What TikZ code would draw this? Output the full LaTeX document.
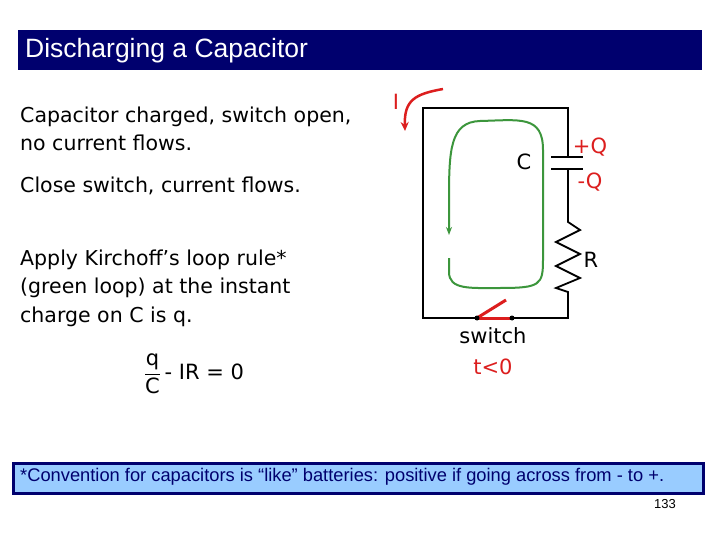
\documentclass[tikz,border=0pt]{standalone}
\usepackage{fontspec}
\setmainfont{DejaVu Sans}
\newfontfamily\arl{Liberation Sans}
\usetikzlibrary{arrows.meta}
\definecolor{navy}{RGB}{0,0,110}
\definecolor{lblue}{RGB}{153,204,255}
\definecolor{lgreen}{RGB}{60,150,60}
\definecolor{rd}{RGB}{220,30,30}
\tikzset{body/.style={anchor=west,align=left,font=\fontsize{20.5}{28.5}\selectfont,inner sep=0},
 wire/.style={line width=1.8pt},
 lbl/.style={font=\fontsize{21}{24}\selectfont,inner sep=0}}
\begin{document}
\begin{tikzpicture}[x=1pt,y=-1pt]
\useasboundingbox (0,0) rectangle (720,540);
\fill[white] (0,0) rectangle (720,540);
\node[fill=navy,minimum width=684,minimum height=40,anchor=north west,inner sep=0] (title) at (18,30) {};
\node[anchor=west,text=white,font=\arl\fontsize{26.5}{28}\selectfont,inner sep=0] (tt) at (25,51) {Discharging a Capacitor};
\node[body] (t1) at (20,129) {Capacitor charged, switch open,\\no current flows.};
\node[body] (t2) at (20,186) {Close switch, current flows.};
\node[body] (t3) at (20,288) {Apply Kirchoff’s loop rule*\\(green loop) at the instant\\charge on C is q.};
\node[font=\fontsize{21}{24}\selectfont,inner sep=0] (eq) at (194,374) {$\displaystyle\frac{\mathrm{q}}{\mathrm{C}}$\,- IR = 0};
% circuit
\coordinate (tl) at (423,108); \coordinate (tr) at (568,108);
\coordinate (bl) at (423,318); \coordinate (br) at (568,318);
\coordinate (ct) at (568,157); \coordinate (cb) at (568,169);
\coordinate (rt) at (568,222); \coordinate (rb) at (568,292);
\coordinate (s1) at (477,318); \coordinate (s2) at (512,318);
\draw[wire] (s1) -- (bl) -- (tl) -- (tr) -- (ct);
\draw[wire] (551,157) -- (583,157);
\draw[wire] (551,169) -- (583,169);
\draw[wire] (cb) -- (rt) -- (580,230) -- (556,242) -- (580,254) -- (556,266) -- (580,278) -- (556,288) -- (rb) -- (br) -- (s2);
\draw[rd,line width=3pt] (s1) -- (s2);
\draw[rd,line width=3pt] (s1) -- (506,300);
\fill (s1) circle (2.5); \fill (s2) circle (2.5);
\node[lbl] (C) at (524,162) {C};
\node[lbl,text=rd] (pq) at (590,147) {+Q};
\node[lbl,text=rd] (mq) at (590,182) {-Q};
\node[lbl] (R) at (591,260) {R};
\node[lbl] (sw) at (493,336) {switch};
\node[lbl,text=rd] (tz) at (493,367) {t<0};
% green loop
\draw[lgreen,line width=2pt,-{Stealth[length=8pt]}] (449,258) -- (449,272) .. controls (449,290) and (470,288) .. (500,288)
 .. controls (540,288) and (543,285) .. (543,260) -- (543,150) .. controls (543,115) and (520,120) .. (480,121)
 .. controls (450,122) and (449,150) .. (449,200) -- (449,235);
% current arrow
\draw[rd,line width=2.5pt,-{Stealth[length=9pt,width=8pt]}] (443,89) .. controls (415,94) and (404,100) .. (405,131);
\node[lbl,text=rd] (I) at (396,102) {I};
% bottom box
\node[draw=navy,line width=2.5pt,fill=lblue,minimum width=690,minimum height=30,anchor=north west,inner sep=0] (box) at (12,462) {};
\node[anchor=west,text=navy,font=\arl\fontsize{18.3}{20}\selectfont,inner sep=0] (bt) at (20,477) {*Convention for capacitors is “like” batteries: positive if going across from - to +.};
\node[font=\arl\fontsize{13}{15}\selectfont,inner sep=0] (pg) at (665,504) {133};
\end{tikzpicture}
\end{document}
